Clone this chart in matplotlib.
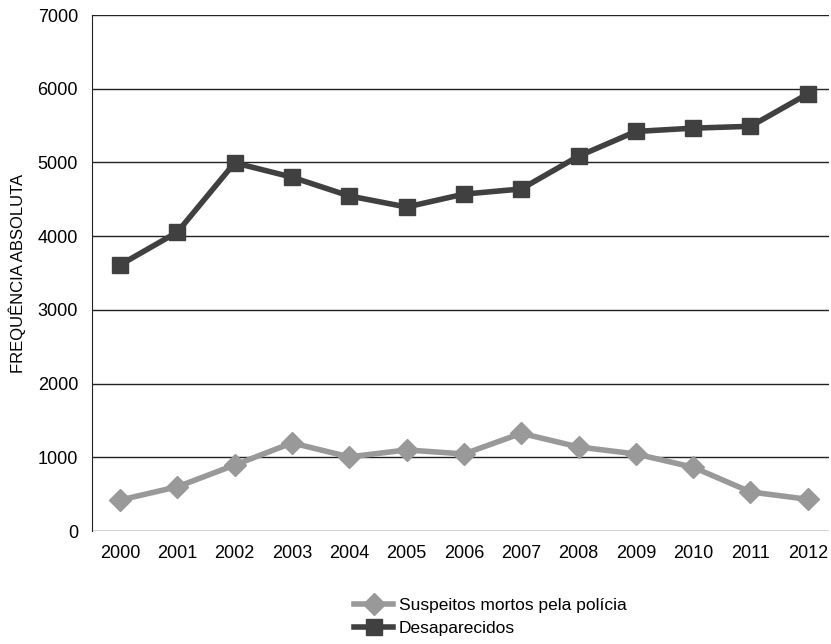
import matplotlib
matplotlib.use("Agg")
import matplotlib.pyplot as plt
from matplotlib import font_manager

# condensed font if we have it
names = set(f.name for f in font_manager.fontManager.ttflist)
fam = 'Liberation Sans Narrow' if 'Liberation Sans Narrow' in names else 'Liberation Sans'
plt.rcParams['font.family'] = [fam, 'DejaVu Sans']

anos = ['2000', '2001', '2002', '2003', '2004', '2005', '2006',
        '2007', '2008', '2009', '2010', '2011', '2012']
suspeitos = [420, 600, 895, 1195, 1005, 1100, 1045, 1325, 1140, 1045, 865, 530, 430]
desaparecidos = [3610, 4055, 4995, 4800, 4545, 4395, 4570, 4640, 5085, 5420, 5465, 5490, 5930]

fig = plt.figure(figsize=(8.31, 6.44), dpi=100)
ax = fig.add_axes([92/831, 1-531/644, (829-92)/831, (531-15)/644])

x = range(len(anos))
ax.plot(x, suspeitos, color='#999999', lw=4, marker='D', ms=11,
        label='Suspeitos mortos pela polícia', zorder=3)
ax.plot(x, desaparecidos, color='#404040', lw=4, marker='s', ms=11,
        label='Desaparecidos', zorder=3)

ax.set_ylim(0, 7000)
ax.set_xlim(-0.49, 12.37)
ax.set_yticks(range(0, 7001, 1000))
ax.set_xticks(list(x))
ax.set_xticklabels(anos)
ax.yaxis.grid(True, color='#222222', lw=1)
ax.set_axisbelow(True)
for s in ['top', 'right', 'bottom']:
    ax.spines[s].set_visible(False)
ax.spines['left'].set_color('#222222')
ax.tick_params(length=0, labelsize=13, pad=10)
fig.text(17/831, 1-273/644, 'FREQUÊNCIA ABSOLUTA', fontsize=12,
         rotation=90, ha='center', va='center')

fig.legend(loc='center', bbox_to_anchor=(490/831, 1-617/644), frameon=False,
           fontsize=12.5, handlelength=2.3, labelspacing=0.5, handletextpad=0.3)

fig.savefig('out.png', dpi=100)
